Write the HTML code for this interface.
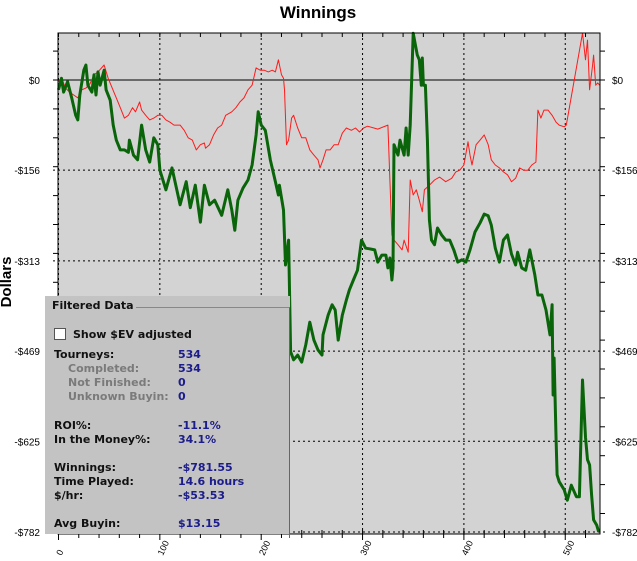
<!DOCTYPE html>
<html><head><meta charset="utf-8">
<style>
body{margin:0;background:#fff;width:637px;height:561px;overflow:hidden;position:relative;font-family:"DejaVu Sans","Liberation Sans",sans-serif}
#panel{position:absolute;left:45px;top:296px;width:245px;height:238px;background:#c3c3c3}
#panel .t{position:absolute;font-size:11px;font-weight:bold;white-space:nowrap;line-height:13px}
.lab{color:#111}.g{color:#7a7a7a}.v{color:#1c1c8a}
</style></head><body>
<svg id="chart" width="637" height="561" style="position:absolute;left:0;top:0">
<text x="318" y="18" text-anchor="middle" font-family="Liberation Sans, sans-serif" font-weight="bold" font-size="17">Winnings</text>
<text x="11" y="282" transform="rotate(-90 11 282)" text-anchor="middle" font-family="Liberation Sans, sans-serif" font-weight="bold" font-size="15">Dollars</text>
<rect x="58" y="33" width="542" height="501" fill="#d3d3d3"/>
<g id="grid"></g><g id="ticks"></g><g id="series"></g>
<rect x="58" y="33" width="542" height="501" fill="none" stroke="#000" stroke-width="1"/>
</svg>
<div id="panel">
<div style="position:absolute;left:7px;top:11px;width:237px;height:230px;border-top:1px solid #888;border-right:1px solid #666"></div>
<div class="t lab" style="left:5px;top:3px;background:#c3c3c3;padding:0 2px">Filtered Data</div>
<div style="position:absolute;left:9px;top:32px;width:10px;height:10px;background:#fff;border:1px solid #555"></div>
<div class="t lab" style="left:28px;top:32px">Show $EV adjusted</div>
<div class="t lab" style="left:9px;top:52px">Tourneys:</div><div class="t v" style="left:133px;top:52px">534</div>
<div class="t g" style="left:23px;top:66px">Completed:</div><div class="t v" style="left:133px;top:66px">534</div>
<div class="t g" style="left:23px;top:80px">Not Finished:</div><div class="t v" style="left:133px;top:80px">0</div>
<div class="t g" style="left:23px;top:94px">Unknown Buyin:</div><div class="t v" style="left:133px;top:94px">0</div>
<div class="t lab" style="left:9px;top:123px">ROI%:</div><div class="t v" style="left:133px;top:123px">-11.1%</div>
<div class="t lab" style="left:9px;top:137px">In the Money%:</div><div class="t v" style="left:133px;top:137px">34.1%</div>
<div class="t lab" style="left:9px;top:165px">Winnings:</div><div class="t v" style="left:133px;top:165px">-$781.55</div>
<div class="t lab" style="left:9px;top:179px">Time Played:</div><div class="t v" style="left:133px;top:179px">14.6 hours</div>
<div class="t lab" style="left:9px;top:193px">$/hr:</div><div class="t v" style="left:133px;top:193px">-$53.53</div>
<div class="t lab" style="left:9px;top:221px">Avg Buyin:</div><div class="t v" style="left:133px;top:221px">$13.15</div>
</div>
<script>
const yTicks=[0,-156,-313,-469,-625,-782];
const yTickLabels=["$0","-$156","-$313","-$469","-$625","-$782"];
const xTicks=[0,100,200,300,400,500];
const greenX=[0,3,5,9,13,17,19,21,25,27,29,33,35,37,39,41,45,47,51,54,57,61,65,69,70,74,78,82,86,90,94,98,100,106,112,120,126,130,135,140,144,149,154,161,167,171,174,177,182,187,191,195,197,200,204,209,214,217,218,222,224,227,228,229,232,236,240,244,248,252,256,260,261,266,270,273,276,280,284,287,291,295,299,303,307,312,315,319,323,325,327,329,330,331,335,337,341,343,345,347,350,354,356,358,359,360,362,364,366,368,371,374,378,382,386,390,394,398,402,406,411,416,420,424,427,431,435,439,443,447,451,453,457,461,465,470,473,477,481,485,487,488,489,491,492,494,499,502,506,511,514,517,520,522,524,526,528,531,533];
const greenY=[-17,3,-21,-3,-31,-61,-69,-26,17,26,-9,-21,9,-26,14,-9,17,-17,-35,-78,-104,-121,-121,-125,-104,-130,-138,-78,-121,-142,-100,-112,-156,-190,-152,-216,-176,-221,-182,-246,-182,-216,-208,-234,-190,-225,-260,-208,-187,-173,-147,-95,-55,-78,-87,-138,-176,-199,-182,-225,-320,-277,-372,-470,-484,-476,-488,-458,-419,-450,-467,-476,-441,-407,-389,-398,-450,-407,-381,-363,-346,-329,-277,-291,-292,-294,-315,-303,-303,-325,-308,-346,-325,-112,-130,-104,-130,-83,-130,-78,81,43,35,-9,38,-9,-9,-104,-242,-277,-285,-256,-268,-277,-277,-294,-315,-311,-315,-294,-263,-247,-232,-235,-251,-291,-315,-277,-268,-301,-320,-298,-325,-329,-294,-337,-372,-372,-398,-441,-389,-545,-481,-623,-683,-695,-709,-727,-701,-721,-721,-519,-618,-657,-666,-718,-761,-770,-782];
const redX=[0,3,7,11,15,19,23,27,31,35,39,45,49,53,57,61,65,69,73,76,80,82,86,90,94,98,102,106,110,114,120,124,128,132,136,140,144,145,149,153,157,161,165,171,175,179,183,187,191,195,199,203,207,211,214,217,220,222,223,225,227,230,232,236,240,244,248,252,256,258,261,264,268,272,276,280,284,289,293,297,301,305,315,325,329,331,335,339,341,345,347,350,353,356,359,361,366,371,376,382,388,392,396,400,404,406,408,412,416,420,424,427,431,435,439,443,447,451,455,459,463,467,471,473,476,479,483,487,491,494,499,501,517,520,522,524,527,528,530,532,534];
const redY=[-3,3,-14,-21,-26,-31,-17,-14,-7,9,14,26,3,-14,-31,-48,-66,-61,-48,-55,-38,-52,-61,-69,-66,-61,-61,-69,-73,-78,-78,-87,-100,-104,-121,-112,-109,-118,-112,-95,-83,-78,-61,-55,-48,-38,-31,-17,-9,21,17,17,14,17,14,35,9,3,-17,-112,-104,-66,-61,-83,-100,-100,-121,-130,-138,-152,-138,-121,-121,-112,-112,-92,-83,-87,-83,-90,-83,-80,-85,-78,-268,-277,-285,-294,-277,-298,-173,-199,-190,-208,-228,-190,-182,-173,-168,-176,-170,-159,-156,-147,-107,-130,-147,-112,-104,-95,-112,-138,-147,-152,-159,-164,-176,-170,-152,-156,-156,-147,-142,-52,-66,-52,-52,-61,-73,-78,-81,-78,81,35,69,-17,26,43,-9,-5,-9];
const NS='http://www.w3.org/2000/svg';
function X(n){return 58.5+n*1.0135;}
function Y(v){return 80-v*0.578;}
function mk(tag,attrs,parent){const e=document.createElementNS(NS,tag);for(const k in attrs)e.setAttribute(k,attrs[k]);parent.appendChild(e);return e;}
const grid=document.getElementById('grid'),ticks=document.getElementById('ticks'),series=document.getElementById('series');
yTicks.forEach((v,i)=>{
  const y=Y(v);
  const l=mk('line',{x1:53,x2:605,y1:y,y2:y,stroke:'#000','stroke-width':1,'stroke-dasharray':v===0?'':'2,3'},grid);
  
  
  const t1=mk('text',{x:40,y:y+4,'text-anchor':'end','font-size':10,'font-family':'Liberation Sans, sans-serif'},ticks);
  t1.textContent=yTickLabels[i];
  
  
  const t2=mk('text',{x:612,y:y+4,'font-size':10,'font-family':'Liberation Sans, sans-serif'},ticks);
  t2.textContent=yTickLabels[i];
  
  
});
for(let v=150;v>=-800;v-=50){const y=Y(v);if(y<33||y>534)continue;
  mk('line',{x1:53,x2:58,y1:y,y2:y,stroke:'#000'},ticks);mk('line',{x1:600,x2:605,y1:y,y2:y,stroke:'#000'},ticks);}
xTicks.forEach(n=>{
  const x=X(n);
  const l=mk('line',{x1:x,x2:x,y1:33,y2:540,stroke:'#000','stroke-dasharray':'2,3'},grid);
  
  
  const t=mk('text',{x:x+3,y:556,'font-size':9,'text-anchor':'start','font-family':'Liberation Sans, sans-serif',transform:`rotate(-65 ${x+3} 556)`},ticks);
  t.textContent=String(n);
  
  
});
for(let n=0;n<=534;n+=20){const x=X(n);mk('line',{x1:x,x2:x,y1:33,y2:37,stroke:'#000'},ticks);mk('line',{x1:x,x2:x,y1:530,y2:538,stroke:'#000'},ticks);}
function path(xs,ys,color,w,name){
  let d='';xs.forEach((n,i)=>{d+=(i?'L':'M')+X(n).toFixed(1)+','+Y(ys[i]).toFixed(1);});
  const p=mk('path',{d:d,fill:'none',stroke:color,'stroke-width':w,'stroke-linejoin':'round'},series);
  
  
}
path(redX,redY,'#ff1a1a',1,'ev-adjusted-line');
path(greenX,greenY,'#0a640a',3,'winnings-line');
</script>
</body></html>
